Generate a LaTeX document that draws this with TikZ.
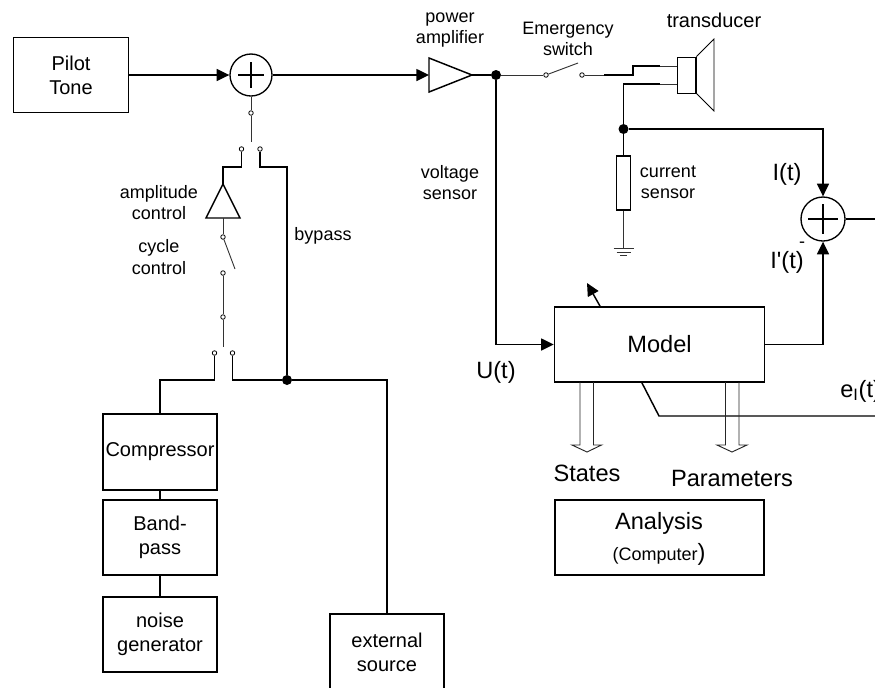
\documentclass[tikz,border=0pt]{standalone}
\usepackage{fontspec}
\defaultfontfeatures[\rmfamily]{}
\setmainfont{Liberation Sans}
\usetikzlibrary{arrows.meta,calc}

\tikzset{
  wire/.style={line width=1.1pt},
  midwire/.style={line width=0.85pt},
  thinwire/.style={line width=0.7pt,color=black!80},
  flow/.style={wire,-{Triangle[length=9.5pt,width=9pt]}},
  box/.style={draw,line width=1.1pt,inner sep=0pt,align=center,font=\fontsize{15}{18}\selectfont},
  sumpoint/.style={draw,circle,line width=1pt,inner sep=0pt,minimum size=31.5pt},
  junction/.style={circle,fill=black,inner sep=0pt,minimum size=7.5pt},
  contact/.style={draw,circle,fill=white,line width=0.6pt,inner sep=0pt,minimum size=3.4pt},
  smalltext/.style={inner sep=0pt,align=center,font=\fontsize{13.5}{16}\selectfont},
  midtext/.style={inner sep=0pt,align=center,font=\fontsize{15}{18}\selectfont},
  bigtext/.style={inner sep=0pt,align=center,font=\fontsize{17.7}{21}\selectfont},
  openarrow/.style={line width=0.7pt,color=black!85},
}

\begin{document}
\begin{tikzpicture}[x=0.75pt,y=0.75pt,yscale=-1,xscale=1]
\useasboundingbox (0,0) rectangle (875,687);
\clip (0,0) rectangle (875,687);

%Shape: boxes
\node [box,minimum width=86.25pt,minimum height=56.25pt] (pilot) at (71,75) {Pilot\\Tone};
\node [box,minimum width=85.5pt,minimum height=57pt] (compressor) at (160,452) {Compressor};
\node [box,minimum width=85.5pt,minimum height=56.25pt] (bandpass) at (160,537.5) {Band-\\pass};
\node [box,minimum width=85.5pt,minimum height=56.25pt] (noise) at (160,634.5) {noise\\generator};
\node [box,minimum width=85.5pt,minimum height=57pt] (external) at (387,652) {external\\source};
\node [box,font=\fontsize{17.7}{21}\selectfont,minimum width=157.5pt,minimum height=56.25pt] (model) at (659.5,344.5) {Model};
\node [box,minimum width=157pt,minimum height=56.25pt] (analysis) at (659.5,537.5) {};

%Shape: summing points
\node [sumpoint] (sumtone) at (251,75) {};
\draw [line width=0.8pt] (sumtone.center)+(-13,0) -- +(13,0) (sumtone.center)+(0,-13) -- +(0,13);
\node [sumpoint,minimum size=33pt] (sumerror) at (823,219) {};
\draw [line width=0.8pt] (sumerror.center)+(-15,0) -- +(15,0) (sumerror.center)+(0,-15) -- +(0,15);

%Shape: power amplifier
\coordinate (ampin) at (429,75);
\coordinate (ampout) at (472,75);
\draw [wire] ($(ampin)+(0,-17)$) -- (ampout) -- ($(ampin)+(0,17)$) -- cycle;

%Shape: amplitude control
\coordinate (gaintop) at (223,184);
\coordinate (gainbase) at (223,218);
\draw [wire] (gaintop) -- ($(gainbase)+(-17,0)$) -- ($(gainbase)+(17,0)$) -- cycle;

%Shape: transducer
\node [draw,line width=0.6pt,minimum width=14.25pt,minimum height=27pt,inner sep=0pt] (coil) at (686.5,75) {};
\draw [line width=1.4pt] (coil.north east) -- (coil.south east);
\coordinate (conetop) at (714,39);
\coordinate (conebottom) at (714,111);
\draw [line width=0.6pt] (coil.north east) -- (conetop) -- (conebottom) -- (coil.south east);

%Shape: current sensor
\node [draw,line width=1.1pt,minimum width=10.5pt,minimum height=40.5pt,inner sep=0pt] (sensor) at (623.5,183) {};
\coordinate (earth) at (623.5,248);
\draw [thinwire] (sensor) -- (earth);
\draw [thinwire] (earth)+(-10,0) -- +(10,0);
\draw [thinwire] (earth)+(-7,4) -- +(7,4);
\draw [thinwire] (earth)+(-3.5,7) -- +(3.5,7);

% Junctions
\node [junction] (ampdot) at (496,75) {};
\node [junction] (sensordot) at (623.5,129) {};
\node [junction] (bypassdot) at (287,380) {};

% Contacts
\node [contact] (sumcontact) at (251,113) {};
\node [contact] (gaincontact) at (241.5,149) {};
\node [contact] (bypasscontact) at (260,149) {};
\node [contact] (cycletop) at (223,237) {};
\node [contact] (cyclebottom) at (223,273) {};
\node [contact] (selcontact) at (223,317) {};
\node [contact] (noisecontact) at (214.5,353) {};
\node [contact] (sourcecontact) at (232.5,353) {};
\node [contact] (stopleft) at (546,75) {};
\node [contact] (stopright) at (582,75) {};

% Free ends and bends
\coordinate (pilotthin) at (193,75);
\coordinate (tonefree) at (251,142);
\coordinate (cyclefree) at (235,269);
\coordinate (selfree) at (223,347);
\coordinate (stopfree) at (578,63);
\coordinate (stopwire) at (604,75);
\coordinate (stepout) at (633,75);
\coordinate (stepup) at (633,66);
\coordinate (coilthin) at (660,66);
\coordinate (coilhigh) at (677,66);
\coordinate (coillow) at (677,84);
\coordinate (returnthin) at (660,84);
\coordinate (returnbend) at (623.5,84);
\coordinate (gainbend) at (223,167);
\coordinate (bypassbend) at (287,167);
\coordinate (noisebend) at (160,380);
\coordinate (outright) at (875,219);
\coordinate (errorstart) at (641.5,382);
\coordinate (errorbend) at (659,416);
\coordinate (errorright) at (875,416);
\coordinate (adaptbase) at (600.5,307);
\coordinate (adapttip) at (587,283);

%Straight Lines
\draw [midwire] (pilot.east |- pilotthin) -- (pilotthin);
\draw [flow] (pilotthin) -- (sumtone);
\draw [flow] (sumtone) -- (ampin);
\draw [wire] (ampout) -- (ampdot);
\draw [thinwire] (ampdot) -- (stopleft);
\draw [thinwire] (stopleft) -- (stopfree);
\draw [thinwire] (stopright) -- (stopwire);
\draw [wire] (stopwire) -- (stepout) -- (stepup) -- (coilthin);
\draw [thinwire] (coilthin) -- (coilhigh);
\draw [thinwire] (coillow) -- (returnthin);
\draw [wire] (returnthin) -- (returnbend) -- (sensordot) -- (sensor);
\draw [flow] (sensordot) -| (sumerror);
\draw [flow] (ampdot) |- (model);
\draw [flow] (model) -| (sumerror);
\draw [wire] (sumerror) -- (outright);
\draw [flow] (adaptbase) -- (adapttip);
\draw [wire] (errorstart) -- (errorbend) -- (errorright);

\draw [thinwire] (sumtone) -- (sumcontact) -- (tonefree);
\draw [wire] (gaincontact) |- (gainbend) -- (gaintop);
\draw [wire] (bypasscontact) |- (bypassbend) -- (bypassdot);
\draw [thinwire] (gainbase) -- (cycletop);
\draw [thinwire] (cycletop) -- (cyclefree);
\draw [thinwire] (cyclebottom) -- (selcontact) -- (selfree);
\draw [wire] (noisecontact) |- (noisebend) -- (compressor);
\draw [wire] (sourcecontact) |- (bypassdot);
\draw [wire] (bypassdot) -| (external);
\draw [wire] (compressor) -- (bandpass);
\draw [wire] (bandpass) -- (noise);

%Shape: open arrows
\draw [openarrow] (580,382) -- (580,445) -- (572,445) -- (587,452) -- (601.5,445) -- (593.5,445) -- (593.5,382);
\draw [openarrow] (725.5,382) -- (725.5,445) -- (717,445) -- (732,452) -- (747,445) -- (739,445) -- (739,382);

% Text Node
\node [smalltext] (poweramp) at (450,30) {power\\amplifier};
\node [smalltext] (stoplabel) at (568,39) {Emergency\\switch};
\node [midtext] (transducer) at (714,20) {transducer};
\node [smalltext] (voltage) at (450,182.5) {voltage\\sensor};
\node [smalltext] (current) at (668,182.5) {current\\sensor};
\node [smalltext] (bypass) at (323,236) {bypass};
\node [smalltext] (amplitude) at (159,202.5) {amplitude\\control};
\node [smalltext] (cycle) at (159,257) {cycle\\control};
\node [bigtext] (currentreal) at (787,174) {I(t)};
\node [bigtext] (currentmodel) at (787,262) {I'(t)};
\node [smalltext] (minus) at (802,245) {-};
\node [bigtext] (voltagein) at (496,372) {U(t)};
\node [bigtext,anchor=west] (errorlabel) at (840,391) {e\textsubscript{I}(t)};
\node [bigtext] (states) at (587,473) {States};
\node [bigtext] (parameters) at (732,478) {Parameters};
\node [bigtext] (analysistext) at (659,523) {Analysis};
\node [smalltext] (computertext) at (659,554) {(Computer\fontsize{17.7}{21}\selectfont )};

\end{tikzpicture}
\end{document}
